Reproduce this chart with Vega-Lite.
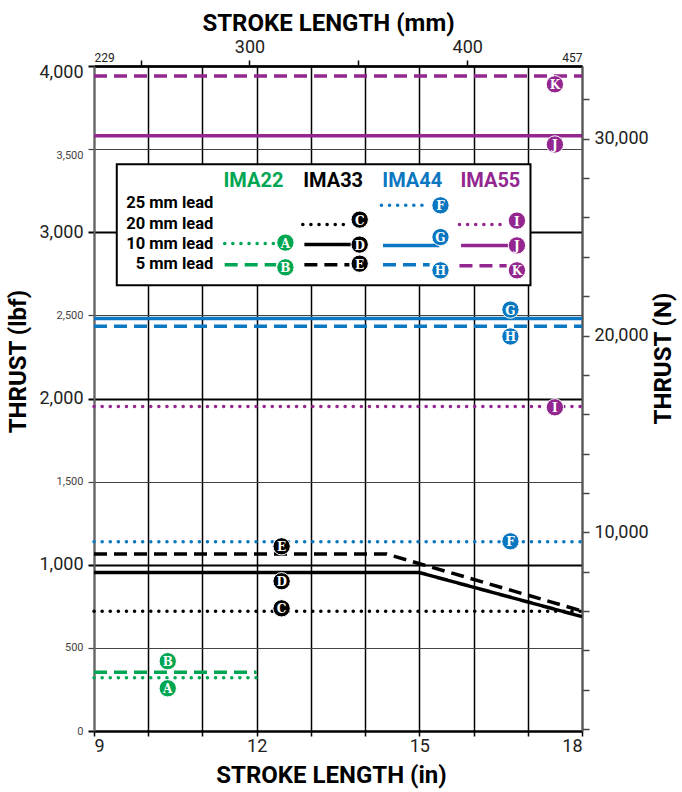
{
  "$schema": "https://vega.github.io/schema/vega-lite/v6.json",
  "width": 488,
  "height": 665,
  "autosize": "none",
  "padding": {"left": 94, "top": 66, "right": 100, "bottom": 61},
  "background": "white",
  "config": {"view": {"stroke": null}, "font": "Roboto"},
  "datasets": {
    "lines": [
      {"id": "A", "series": "IMA22", "style": "dotted", "x": 9, "y": 320},
      {"id": "A", "series": "IMA22", "style": "dotted", "x": 12, "y": 320},
      {"id": "B", "series": "IMA22", "style": "dashed", "x": 9, "y": 354},
      {"id": "B", "series": "IMA22", "style": "dashed", "x": 12, "y": 354},
      {"id": "C", "series": "IMA33", "style": "dotted", "x": 9, "y": 720},
      {"id": "C", "series": "IMA33", "style": "dotted", "x": 18, "y": 720},
      {"id": "D", "series": "IMA33", "style": "solid", "x": 9, "y": 953},
      {"id": "D", "series": "IMA33", "style": "solid", "x": 15, "y": 953},
      {"id": "D", "series": "IMA33", "style": "solid", "x": 18, "y": 688},
      {"id": "E", "series": "IMA33", "style": "dashed", "x": 9, "y": 1064},
      {"id": "E", "series": "IMA33", "style": "dashed", "x": 14.4, "y": 1064},
      {"id": "E", "series": "IMA33", "style": "dashed", "x": 18, "y": 722},
      {"id": "F", "series": "IMA44", "style": "dotted", "x": 9, "y": 1138},
      {"id": "F", "series": "IMA44", "style": "dotted", "x": 18, "y": 1138},
      {"id": "G", "series": "IMA44", "style": "solid", "x": 9, "y": 2481},
      {"id": "G", "series": "IMA44", "style": "solid", "x": 18, "y": 2481},
      {"id": "H", "series": "IMA44", "style": "dashed", "x": 9, "y": 2434},
      {"id": "H", "series": "IMA44", "style": "dashed", "x": 18, "y": 2434},
      {"id": "I", "series": "IMA55", "style": "dotted", "x": 9, "y": 1952},
      {"id": "I", "series": "IMA55", "style": "dotted", "x": 18, "y": 1952},
      {"id": "J", "series": "IMA55", "style": "solid", "x": 9, "y": 3581},
      {"id": "J", "series": "IMA55", "style": "solid", "x": 18, "y": 3581},
      {"id": "K", "series": "IMA55", "style": "dashed", "x": 9, "y": 3940},
      {"id": "K", "series": "IMA55", "style": "dashed", "x": 18, "y": 3940},
      {"id": "A-key", "series": "IMA22", "style": "dotted", "x": 11.41, "y": 2932},
      {"id": "A-key", "series": "IMA22", "style": "dotted", "x": 12.36, "y": 2932},
      {"id": "B-key", "series": "IMA22", "style": "dashed", "x": 11.41, "y": 2805},
      {"id": "B-key", "series": "IMA22", "style": "dashed", "x": 12.36, "y": 2805},
      {"id": "C-key", "series": "IMA33", "style": "dotted", "x": 12.85, "y": 3046},
      {"id": "C-key", "series": "IMA33", "style": "dotted", "x": 13.71, "y": 3046},
      {"id": "D-key", "series": "IMA33", "style": "solid", "x": 12.88, "y": 2926},
      {"id": "D-key", "series": "IMA33", "style": "solid", "x": 13.84, "y": 2926},
      {"id": "E-key", "series": "IMA33", "style": "dashed", "x": 12.88, "y": 2805},
      {"id": "E-key", "series": "IMA33", "style": "dashed", "x": 13.71, "y": 2805},
      {"id": "F-key", "series": "IMA44", "style": "dotted", "x": 14.3, "y": 3162},
      {"id": "F-key", "series": "IMA44", "style": "dotted", "x": 15.19, "y": 3162},
      {"id": "G-key", "series": "IMA44", "style": "solid", "x": 14.33, "y": 2921},
      {"id": "G-key", "series": "IMA44", "style": "solid", "x": 15.37, "y": 2921},
      {"id": "H-key", "series": "IMA44", "style": "dashed", "x": 14.33, "y": 2805},
      {"id": "H-key", "series": "IMA44", "style": "dashed", "x": 15.19, "y": 2805},
      {"id": "I-key", "series": "IMA55", "style": "dotted", "x": 15.74, "y": 3046},
      {"id": "I-key", "series": "IMA55", "style": "dotted", "x": 16.61, "y": 3046},
      {"id": "J-key", "series": "IMA55", "style": "solid", "x": 15.77, "y": 2921},
      {"id": "J-key", "series": "IMA55", "style": "solid", "x": 16.76, "y": 2921},
      {"id": "K-key", "series": "IMA55", "style": "dashed", "x": 15.74, "y": 2799},
      {"id": "K-key", "series": "IMA55", "style": "dashed", "x": 16.61, "y": 2799}
    ],
    "markers": [
      {"letter": "A", "series": "IMA22", "x": 10.36, "y": 257},
      {"letter": "B", "series": "IMA22", "x": 10.36, "y": 420},
      {"letter": "C", "series": "IMA33", "x": 12.46, "y": 738},
      {"letter": "D", "series": "IMA33", "x": 12.46, "y": 901},
      {"letter": "E", "series": "IMA33", "x": 12.46, "y": 1111},
      {"letter": "F", "series": "IMA44", "x": 16.68, "y": 1141},
      {"letter": "G", "series": "IMA44", "x": 16.68, "y": 2535},
      {"letter": "H", "series": "IMA44", "x": 16.68, "y": 2373},
      {"letter": "I", "series": "IMA55", "x": 17.5, "y": 1947},
      {"letter": "J", "series": "IMA55", "x": 17.5, "y": 3528},
      {"letter": "K", "series": "IMA55", "x": 17.5, "y": 3890},
      {"letter": "A", "series": "IMA22", "x": 12.53, "y": 2938},
      {"letter": "B", "series": "IMA22", "x": 12.53, "y": 2789},
      {"letter": "C", "series": "IMA33", "x": 13.9, "y": 3076},
      {"letter": "D", "series": "IMA33", "x": 13.9, "y": 2926},
      {"letter": "E", "series": "IMA33", "x": 13.9, "y": 2811},
      {"letter": "F", "series": "IMA44", "x": 15.39, "y": 3162},
      {"letter": "G", "series": "IMA44", "x": 15.39, "y": 2971},
      {"letter": "H", "series": "IMA44", "x": 15.39, "y": 2771},
      {"letter": "I", "series": "IMA55", "x": 16.8, "y": 3070},
      {"letter": "J", "series": "IMA55", "x": 16.8, "y": 2921},
      {"letter": "K", "series": "IMA55", "x": 16.8, "y": 2771}
    ],
    "headers": [
      {"text": "IMA22", "series": "IMA22", "x": 11.94, "y": 3311},
      {"text": "IMA33", "series": "IMA33", "x": 13.41, "y": 3311},
      {"text": "IMA44", "series": "IMA44", "x": 14.87, "y": 3311},
      {"text": "IMA55", "series": "IMA55", "x": 16.31, "y": 3311}
    ],
    "rows": [
      {"text": "25 mm lead", "x": 11.2, "y": 3174},
      {"text": "20 mm lead", "x": 11.2, "y": 3047},
      {"text": "10 mm lead", "x": 11.2, "y": 2931},
      {"text": "5 mm lead", "x": 11.2, "y": 2810}
    ],
    "box": [{"x": 9.42, "x2": 17.05, "y": 2681, "y2": 3409}]
  },
  "layer": [
    {
      "encoding": {
        "x": {
          "field": "x", "type": "quantitative",
          "scale": {"domain": [9, 18], "nice": false, "zero": false},
          "axis": {
            "orient": "bottom", "values": [9, 10, 11, 12, 13, 14, 15, 16, 17, 18],
            "labelExpr": "datum.value % 3 === 0 ? datum.label : ''",
            "grid": true, "gridColor": "#000", "gridWidth": 1.5,
            "tickColor": "#000", "tickSize": 5, "tickWidth": 1.5,
            "domainColor": "#000", "domainWidth": 2,
            "labelFontSize": 18, "labelColor": "#222", "labelPadding": 1,
            "title": "STROKE LENGTH (in)", "titleFontSize": 24, "titleFontWeight": "bold", "titleColor": "#000",
            "titleX": 237, "titleY": 51, "titleAlign": "center", "titleBaseline": "alphabetic"
          }
        },
        "y": {
          "field": "y", "type": "quantitative",
          "scale": {"domain": [0, 4000], "nice": false},
          "axis": {
            "orient": "left", "values": [0, 500, 1000, 1500, 2000, 2500, 3000, 3500, 4000],
            "labelExpr": "format(datum.value, ',')",
            "grid": true,
            "gridColor": {"condition": {"test": "datum.value % 1000 === 0", "value": "#000"}, "value": "#444"},
            "gridWidth": {"condition": {"test": "datum.value % 1000 === 0", "value": 2}, "value": 1.2},
            "tickColor": {"condition": {"test": "datum.value % 1000 === 0", "value": "#000"}, "value": "#444"},
            "tickWidth": {"condition": {"test": "datum.value % 1000 === 0", "value": 2}, "value": 1.2},
            "tickSize": 6,
            "labelFontSize": {"condition": {"test": "datum.value % 1000 === 0 && datum.value > 0", "value": 18}, "value": 11},
            "labelColor": {"condition": {"test": "datum.value % 1000 === 0 && datum.value > 0", "value": "#222"}, "value": "#444"},
            "labelOffset": {"condition": {"test": "datum.value >= 3500", "value": 6}, "value": 0},
            "labelPadding": 5,
            "domainColor": "#666", "domainWidth": 2,
            "title": "THRUST (lbf)", "titleFontSize": 24, "titleFontWeight": "bold", "titleColor": "#000",
            "titleAngle": 270, "titleX": -76, "titleY": 295, "titleAlign": "center", "titleBaseline": "middle"
          }
        }
      },
      "layer": [
        {
          "data": {"name": "box"},
          "mark": {"type": "rect", "fill": "white", "stroke": "#000", "strokeWidth": 2},
          "encoding": {"x2": {"field": "x2"}, "y2": {"field": "y2"}}
        },
        {
          "data": {"name": "lines"},
          "transform": [{"filter": "datum.style !== 'dotted'"}],
          "mark": {"type": "line", "strokeWidth": 3.5, "strokeCap": "butt"},
          "encoding": {
            "detail": {"field": "id"},
            "color": {"field": "series", "type": "nominal", "scale": {"domain": ["IMA22", "IMA33", "IMA44", "IMA55"], "range": ["#00a651", "#000000", "#0a77c0", "#93278f"]}, "legend": null},
            "strokeDash": {"field": "style", "type": "nominal", "scale": {"domain": ["solid", "dashed"], "range": [[1, 0], [13, 7]]}, "legend": null}
          }
        },
        {
          "data": {"name": "lines"},
          "transform": [{"filter": "datum.style === 'dotted'"}],
          "mark": {"type": "line", "strokeWidth": 3.5, "strokeCap": "round", "strokeDash": [0.1, 8]},
          "encoding": {
            "detail": {"field": "id"},
            "color": {"field": "series", "type": "nominal", "legend": null}
          }
        },
        {
          "data": {"name": "markers"},
          "mark": {"type": "point", "filled": true, "size": 300, "opacity": 1, "stroke": "white", "strokeWidth": 1},
          "encoding": {
            "color": {"field": "series", "type": "nominal", "legend": null}
          }
        },
        {
          "data": {"name": "markers"},
          "mark": {"type": "text", "font": "DejaVu Serif", "fontWeight": "bold", "fontSize": 12, "color": "white", "align": "center", "baseline": "middle", "dy": 1},
          "encoding": {"text": {"field": "letter"}}
        },
        {
          "data": {"name": "headers"},
          "mark": {"type": "text", "fontWeight": "bold", "fontSize": 20, "align": "center", "baseline": "middle"},
          "encoding": {
            "text": {"field": "text"},
            "color": {"field": "series", "type": "nominal", "legend": null}
          }
        },
        {
          "data": {"name": "rows"},
          "mark": {"type": "text", "fontWeight": "bold", "fontSize": 16.5, "align": "right", "baseline": "middle", "color": "#000"},
          "encoding": {"text": {"field": "text"}}
        }
      ]
    },
    {
      "data": {"values": [{"mm": 228.6, "N": 0}]},
      "mark": {"type": "point", "opacity": 0},
      "encoding": {
        "x": {
          "field": "mm", "type": "quantitative",
          "scale": {"domain": [228.6, 452.7], "nice": false, "zero": false},
          "axis": {
            "orient": "top", "values": [228.6, 250, 300, 350, 400, 452.7],
            "labelExpr": "datum.value < 229 ? '229' : datum.value > 452 ? '457' : (datum.value % 100 === 0 ? datum.label : '')",
            "tickSize": {"condition": {"test": "datum.value < 229 || datum.value > 452", "value": 0}, "value": 6},
            "tickColor": "#000", "tickWidth": 1.5,
            "domainColor": "#000", "domainWidth": 2.5, "grid": false,
            "labelFontSize": {"condition": {"test": "datum.value < 229 || datum.value > 452", "value": 12}, "value": 18},
            "labelPadding": {"condition": {"test": "datum.value < 229 || datum.value > 452", "value": 2}, "value": 4},
            "labelColor": "#222",
            "title": "STROKE LENGTH (mm)", "titleFontSize": 24, "titleFontWeight": "bold", "titleColor": "#000",
            "titleX": 234, "titleY": -36, "titleAlign": "center", "titleBaseline": "alphabetic"
          }
        },
        "y": {
          "field": "N", "type": "quantitative",
          "scale": {"domain": [-100, 33700], "nice": false, "zero": false},
          "axis": {
            "orient": "right",
            "values": [0, 2000, 4000, 6000, 8000, 10000, 12000, 14000, 16000, 18000, 20000, 22000, 24000, 26000, 28000, 30000, 32000],
            "labelExpr": "datum.value > 0 && datum.value % 10000 === 0 ? format(datum.value, ',') : ''",
            "tickSize": 7, "tickColor": "#444", "tickWidth": 1.5,
            "domainColor": "#555", "domainWidth": 2, "grid": false,
            "labelFontSize": 18, "labelColor": "#222", "labelPadding": 5,
            "title": "THRUST (N)", "titleFontSize": 24, "titleFontWeight": "bold", "titleColor": "#000",
            "titleAngle": 270, "titleX": 81, "titleY": 292, "titleAlign": "center", "titleBaseline": "middle"
          }
        }
      }
    }
  ],
  "resolve": {"scale": {"x": "independent", "y": "independent"}}
}
